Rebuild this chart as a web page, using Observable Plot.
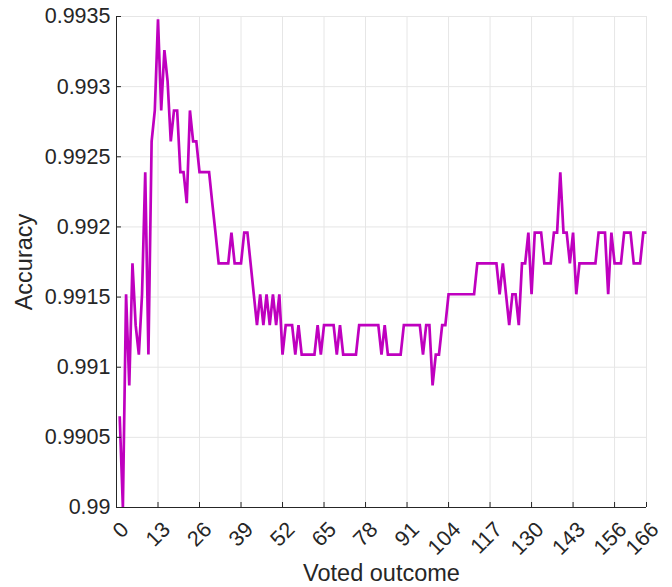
<!DOCTYPE html>
<html>
<head>
<meta charset="utf-8">
<script src="https://cdn.jsdelivr.net/npm/d3@7"></script>
<script src="https://cdn.jsdelivr.net/npm/@observablehq/plot@0.6"></script>
<style>
  html, body { margin: 0; padding: 0; background: #ffffff; }
  #chart { width: 672px; height: 587px; }
</style>
</head>
<body>
<div id="chart"></div>
<script>
// Accuracy per voted outcome (x = 1 … 166)
const accuracy = [
  0.99065, 0.99000, 0.99152, 0.99087, 0.99174, 0.99130, 0.99109, 0.99152, 0.99239, 0.99109,
  0.99261, 0.99283, 0.99348, 0.99283, 0.99326, 0.99304, 0.99261, 0.99283, 0.99283, 0.99239,
  0.99239, 0.99217, 0.99283, 0.99261, 0.99261, 0.99239, 0.99239, 0.99239, 0.99239, 0.99217,
  0.99196, 0.99174, 0.99174, 0.99174, 0.99174, 0.99196, 0.99174, 0.99174, 0.99174, 0.99196,
  0.99196, 0.99174, 0.99152, 0.99130, 0.99152, 0.99130, 0.99152, 0.99130, 0.99152, 0.99130,
  0.99152, 0.99109, 0.99130, 0.99130, 0.99130, 0.99109, 0.99130, 0.99109, 0.99109, 0.99109,
  0.99109, 0.99109, 0.99130, 0.99109, 0.99130, 0.99130, 0.99130, 0.99130, 0.99109, 0.99130,
  0.99109, 0.99109, 0.99109, 0.99109, 0.99109, 0.99130, 0.99130, 0.99130, 0.99130, 0.99130,
  0.99130, 0.99130, 0.99109, 0.99130, 0.99109, 0.99109, 0.99109, 0.99109, 0.99109, 0.99130,
  0.99130, 0.99130, 0.99130, 0.99130, 0.99130, 0.99109, 0.99130, 0.99130, 0.99087, 0.99109,
  0.99109, 0.99130, 0.99130, 0.99152, 0.99152, 0.99152, 0.99152, 0.99152, 0.99152, 0.99152,
  0.99152, 0.99152, 0.99174, 0.99174, 0.99174, 0.99174, 0.99174, 0.99174, 0.99174, 0.99152,
  0.99174, 0.99152, 0.99130, 0.99152, 0.99152, 0.99130, 0.99174, 0.99174, 0.99196, 0.99152,
  0.99196, 0.99196, 0.99196, 0.99174, 0.99174, 0.99174, 0.99196, 0.99196, 0.99239, 0.99196,
  0.99196, 0.99174, 0.99196, 0.99152, 0.99174, 0.99174, 0.99174, 0.99174, 0.99174, 0.99174,
  0.99196, 0.99196, 0.99196, 0.99152, 0.99196, 0.99174, 0.99174, 0.99174, 0.99196, 0.99196,
  0.99196, 0.99174, 0.99174, 0.99174, 0.99196, 0.99196
];

const xTicks = [0, 13, 26, 39, 52, 65, 78, 91, 104, 117, 130, 143, 156, 166];
const xTickLabels = ["0", "13", "26", "39", "52", "65", "78", "91", "104", "117", "130", "143", "156", "166"];
const yTicks = [0.99, 0.9905, 0.991, 0.9915, 0.992, 0.9925, 0.993, 0.9935];
const yTickLabels = ["0.99", "0.9905", "0.991", "0.9915", "0.992", "0.9925", "0.993", "0.9935"];
const xLabel = "Voted outcome";
const yLabel = "Accuracy";

const W = 672, H = 587;
const mL = 116, mR = 26, mT = 16, mB = 80;
const innerW = W - mL - mR, innerH = H - mT - mB;
const ink = "#262626";
const gridColor = "#e6e6e6";
const font = "'Liberation Sans', Arial, Helvetica, sans-serif";

const chart = Plot.plot({
  width: W,
  height: H,
  marginLeft: mL,
  marginRight: mR,
  marginTop: mT,
  marginBottom: mB,
  style: { fontFamily: font, background: "#ffffff", color: ink, overflow: "visible" },
  x: { domain: [0, 166], axis: null },
  y: { domain: [0.99, 0.9935], axis: null },
  marks: [
    // grid
    Plot.ruleX(xTicks, { x: d => d, stroke: gridColor, strokeWidth: 1 }),
    Plot.ruleY(yTicks, { y: d => d, stroke: gridColor, strokeWidth: 1 }),
    // data line
    Plot.line(accuracy, {
      x: (d, i) => i + 1,
      y: d => d,
      stroke: "#bf00bf",
      strokeWidth: 2.7,
      strokeLinejoin: "miter",
      strokeMiterlimit: 2,
      strokeLinecap: "butt"
    }),
    // axis lines
    Plot.ruleX([0], { x: d => d, stroke: ink, strokeWidth: 1 }),
    Plot.ruleY([0.99], { y: d => d, stroke: ink, strokeWidth: 1 }),
    // inward ticks
    Plot.ruleX(xTicks, { x: d => d, stroke: ink, strokeWidth: 1, insetTop: innerH - 5 }),
    Plot.ruleY(yTicks, { y: d => d, stroke: ink, strokeWidth: 1, insetRight: innerW - 5 }),
    // y tick labels
    Plot.text(yTicks, {
      y: d => d,
      text: (d, i) => yTickLabels[i],
      frameAnchor: "left",
      textAnchor: "end",
      lineAnchor: "middle",
      dx: -6,
      fontSize: 21.5,
      fill: ink
    }),
    // x tick labels (rotated)
    Plot.text(xTicks, {
      x: d => d,
      text: (d, i) => xTickLabels[i],
      frameAnchor: "bottom",
      textAnchor: "end",
      lineAnchor: "middle",
      rotate: -45,
      dx: 8.5,
      dy: 18.5,
      fontSize: 21.5,
      fill: ink
    }),
    // axis titles
    Plot.text([xLabel], {
      text: d => d,
      frameAnchor: "bottom",
      textAnchor: "middle",
      lineAnchor: "middle",
      dy: 66,
      fontSize: 23.5,
      fill: ink
    }),
    Plot.text([yLabel], {
      text: d => d,
      frameAnchor: "left",
      textAnchor: "middle",
      lineAnchor: "middle",
      rotate: -90,
      dx: -92,
      fontSize: 23.5,
      fill: ink
    })
  ]
});

document.getElementById("chart").appendChild(chart);
</script>
</body>
</html>
